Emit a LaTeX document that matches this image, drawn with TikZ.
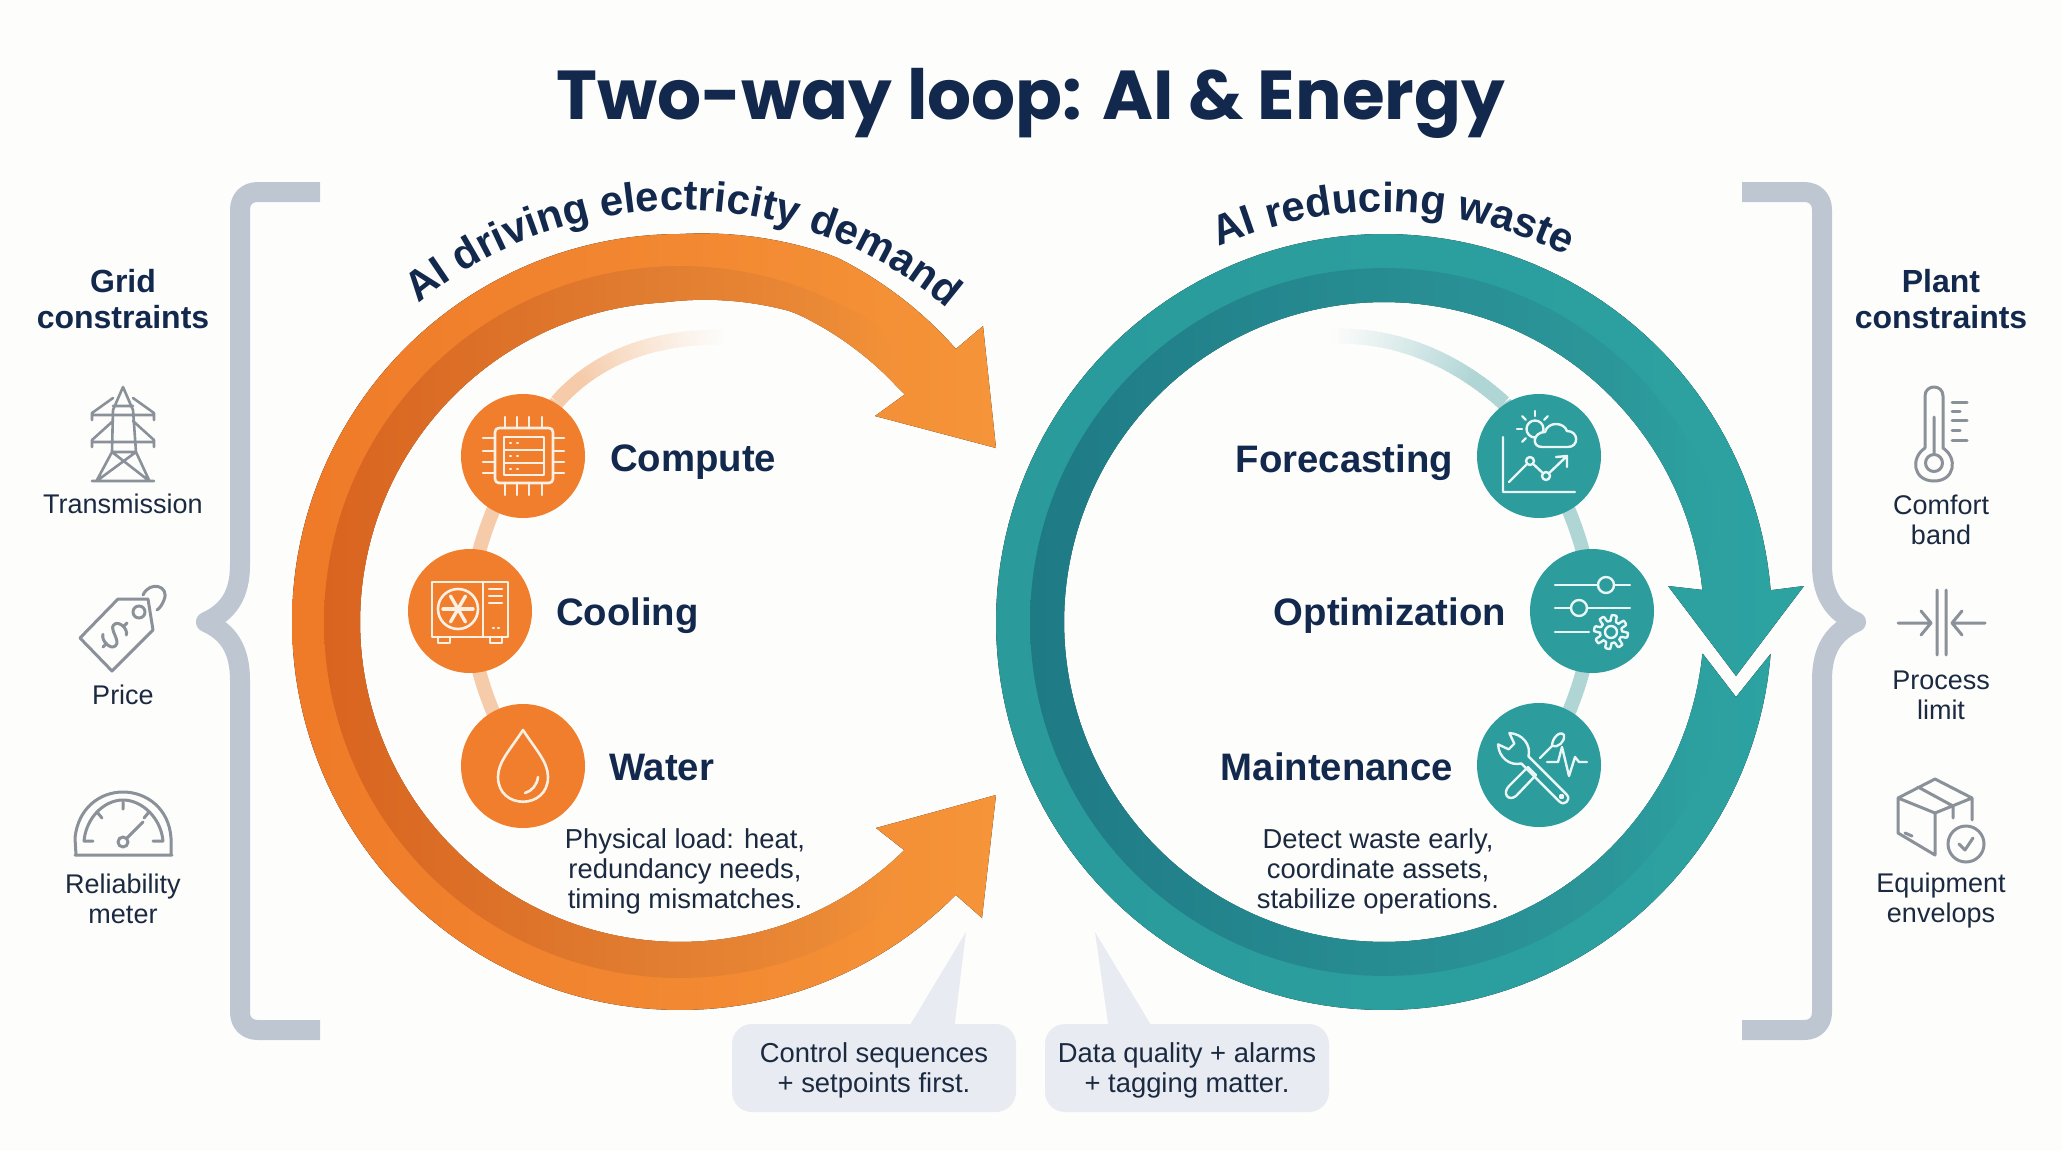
\documentclass[tikz,border=0pt]{standalone}
\usepackage{fontspec}
\usetikzlibrary{decorations.text,calc}
\setmainfont{Liberation Sans}
\newfontfamily\titlefont{Poppins}
\definecolor{navy}{HTML}{12284C}
\definecolor{ink}{HTML}{1B2A40}
\definecolor{pagebg}{HTML}{FDFDFC}
\definecolor{oL}{HTML}{EF7A28}
\definecolor{oR}{HTML}{F59439}
\definecolor{tL}{HTML}{2A9A9B}
\definecolor{tR}{HTML}{2CA2A1}
\definecolor{brk}{HTML}{BEC7D1}
\definecolor{callout}{HTML}{E8EBF1}
\definecolor{icon}{HTML}{8B9199}
\definecolor{linkO}{HTML}{F5CBA9}
\definecolor{linkT}{HTML}{B0D5D5}
\definecolor{whiteO}{HTML}{FCEFE4}
\definecolor{whiteT}{HTML}{EAF6F6}
\definecolor{orbO}{HTML}{F07E2C}
\definecolor{orbT}{HTML}{2C9C9C}
\pgfdeclarehorizontalshading{darkO}{100bp}{
 rgb(0bp)=(.851,.392,.122);
 rgb(25bp)=(.851,.392,.122);
 rgb(52bp)=(.878,.486,.188);
 rgb(67bp)=(.914,.533,.208);
 rgb(73bp)=(.949,.565,.216);
 rgb(75bp)=(.953,.569,.22);
 rgb(100bp)=(.953,.569,.22)}
\pgfdeclarehorizontalshading{darkT}{100bp}{
 rgb(0bp)=(.118,.478,.522);
 rgb(25bp)=(.118,.478,.522);
 rgb(50bp)=(.153,.549,.573);
 rgb(67bp)=(.169,.588,.6);
 rgb(73bp)=(.173,.624,.624);
 rgb(75bp)=(.173,.631,.627);
 rgb(100bp)=(.173,.631,.627)}
\pgfdeclarelayer{back}
\pgfsetlayers{back,main}
\newcommand\curvefnt{\color{navy}\bfseries\fontsize{42}{44}\selectfont}
\tikzset{
 orb/.style={circle,minimum size=124pt,inner sep=0pt,fill=#1},
 hd/.style={font=\bfseries\fontsize{38.3}{42}\selectfont,text=navy,inner sep=0pt},
 sub/.style={font=\bfseries\fontsize{32}{36}\selectfont,text=navy,inner sep=0pt,align=center},
 lab/.style={font=\fontsize{27}{30}\selectfont,text=ink,inner sep=0pt,align=center},
 note/.style={font=\fontsize{27.4}{30}\selectfont,text=ink,inner sep=0pt,align=center},
 link/.style={line width=14pt},
 brace/.style={draw=brk,line width=20pt,line join=round},
 calloutbox/.style={fill=callout,rounded corners=20pt,minimum width=284pt,minimum height=88pt,inner sep=0pt,font=\fontsize{27.4}{30}\selectfont,text=ink,align=center},
 gi/.style={draw=icon,line width=3pt,line cap=round,line join=round},
 wo/.style={draw=whiteO,line width=2.6pt,line cap=round,line join=round},
 wt/.style={draw=whiteT,line width=2.4pt,line cap=round,line join=round},
}
\begin{document}
\begin{tikzpicture}[x=1pt,y=-1pt]
\useasboundingbox (0,0) rectangle (2062,1151);
\begin{pgfonlayer}{back}
\fill[pagebg] (0,0) rectangle (2062,1151);
\end{pgfonlayer}

% title
\node[font=\titlefont\bfseries\fontsize{69.2}{80}\selectfont,text=navy,inner sep=0pt,anchor=base] (title) at (1031,119) {Two-way loop: AI \& Energy};

% left ring
\fill[left color=oL,right color=oR]
 plot[domain=44.7:315.3,samples=150] ({680+(388+9*max(0,1-abs(\x-293)/23))*cos(\x)},{622+(388+9*max(0,1-abs(\x-293)/23))*sin(\x)})
 -- (983,326) -- (996,448) -- (875,416) -- (904,395)
 -- plot[domain=314.5:45.5,samples=150] ({680+(320+10*max(0,1-abs(\x-290)/23))*cos(\x)},{622+(320+10*max(0,1-abs(\x-290)/23))*sin(\x)})
 -- (904,850) -- (876,828) -- (996,795) -- (982,918) -- cycle;
\shade[shading=darkO]
 plot[domain=46:314,samples=150] ({680+(322+34*min(1,min((\x-46)/10,(314-\x)/10)))*cos(\x)},{622+(322+34*min(1,min((\x-46)/10,(314-\x)/10)))*sin(\x)})
 -- plot[domain=314:46,samples=150] ({680+(320+10*max(0,1-abs(\x-290)/23))*cos(\x)},{622+(320+10*max(0,1-abs(\x-290)/23))*sin(\x)}) -- cycle;

% right ring
\fill[left color=tL,right color=tR]
 plot[domain=4.7:355.3,samples=180] ({1384+388*cos(\x)},{622+388*sin(\x)})
 -- (1804,586) -- (1736,676) -- (1668,586) -- (1703,590)
 -- plot[domain=354.3:5.7,samples=180] ({1384+320*cos(\x)},{622+320*sin(\x)})
 -- (1703,654) -- (1736,697) -- cycle;
\shade[shading=darkT]
 plot[domain=9:351,samples=180] ({1384+(321+33*min(1,min((\x-9)/10,(351-\x)/10)))*cos(\x)},{622+(321+33*min(1,min((\x-9)/10,(351-\x)/10)))*sin(\x)})
 -- plot[domain=351:9,samples=180] ({1384+320*cos(\x)},{622+320*sin(\x)}) -- cycle;

% curved headings
\path[color=navy,decorate,decoration={text along path,text align=center,text={|\curvefnt|AI driving electricity demand}}]
 plot[domain=220:321,samples=80] ({680+412*cos(\x)},{622+412*sin(\x)});
\path[color=navy,decorate,decoration={text along path,text align=center,text={|\curvefnt|AI reducing waste}}]
 plot[domain=231:312,samples=80] ({1383+410*cos(\x)},{622+410*sin(\x)});

% orbs
\node[orb=orbO] (compute) at (523,456) {};
\node[orb=orbO] (cooling) at (470,611) {};
\node[orb=orbO] (water) at (523,766) {};
\node[orb=orbT] (forecast) at (1539,456) {};
\node[orb=orbT] (optim) at (1592,611) {};
\node[orb=orbT] (maint) at (1539,765) {};

% connectors behind the orbs
\begin{pgfonlayer}{back}
\draw[link,draw=linkO] (compute.center) .. controls (497,490) and (470,560) .. (cooling.center);
\draw[link,draw=linkO] (cooling.center) .. controls (470,660) and (495,730) .. (water.center);
\draw[link,draw=linkT] (forecast.center) .. controls (1565,490) and (1592,560) .. (optim.center);
\draw[link,draw=linkT] (optim.center) .. controls (1592,660) and (1567,730) .. (maint.center);
% fading tails, drawn piece by piece from the faint end
\foreach \i in {39,38,...,0}{
 \pgfmathsetmacro\ta{\i/40}\pgfmathsetmacro\tb{(\i+1.2)/40}
 \pgfmathsetmacro\pct{min(100,(1-\ta)*125)}
 \draw[line width=15pt,draw=linkO!\pct!pagebg]
  ({(1-\ta)^3*557+3*(1-\ta)^2*\ta*590+3*(1-\ta)*\ta^2*640+\ta^3*722},{(1-\ta)^3*402+3*(1-\ta)^2*\ta*365+3*(1-\ta)*\ta^2*337+\ta^3*337})
  -- ({(1-\tb)^3*557+3*(1-\tb)^2*\tb*590+3*(1-\tb)*\tb^2*640+\tb^3*722},{(1-\tb)^3*402+3*(1-\tb)^2*\tb*365+3*(1-\tb)*\tb^2*337+\tb^3*337});
 \draw[line width=15pt,draw=linkT!\pct!pagebg]
  ({(1-\ta)^3*1504+3*(1-\ta)^2*\ta*1462+3*(1-\ta)*\ta^2*1405+\ta^3*1335},{(1-\ta)^3*403+3*(1-\ta)^2*\ta*365+3*(1-\ta)*\ta^2*335+\ta^3*336})
  -- ({(1-\tb)^3*1504+3*(1-\tb)^2*\tb*1462+3*(1-\tb)*\tb^2*1405+\tb^3*1335},{(1-\tb)^3*403+3*(1-\tb)^2*\tb*365+3*(1-\tb)*\tb^2*335+\tb^3*336});
}
\draw[line width=15pt,draw=linkO] (compute.center) -- (557,402);
\draw[line width=15pt,draw=linkT] (forecast.center) -- (1504,403);
\end{pgfonlayer}

% row labels
\node[hd,anchor=base west] (lblCompute) at (610,471) {Compute};
\node[hd,anchor=base west] (lblCooling) at (556,625) {Cooling};
\node[hd,anchor=base west] (lblWater) at (609,780) {Water};
\node[hd,anchor=base east] (lblForecast) at (1453,472) {Forecasting};
\node[hd,anchor=base east] (lblOptim) at (1506,625) {Optimization};
\node[hd,anchor=base east] (lblMaint) at (1453,780) {Maintenance};

% notes
\node[note,anchor=center] (noteL) at (685,871) {Physical load: heat,\\redundancy needs,\\timing mismatches.};
\node[note,anchor=center] (noteR) at (1378,871) {Detect waste early,\\coordinate assets,\\stabilize operations.};

% callouts
\fill[callout] (907,1030) -- (966,932) -- (954,1030) -- cycle;
\fill[callout] (1109,1030) -- (1095,932) -- (1154,1030) -- cycle;
\node[calloutbox] (cbL) at (874,1068) {\rule{0pt}{25pt}Control sequences\\+ setpoints first.};
\node[calloutbox] (cbR) at (1187,1068) {\rule{0pt}{25pt}Data quality + alarms\\+ tagging matter.};

% brackets
\draw[brace] (320,192) -- (258,192) .. controls (247,192) and (240,199) .. (240,210) -- (240,565) .. controls (240,595) and (228,612) .. (206,622) .. controls (228,632) and (240,649) .. (240,680) -- (240,1012) .. controls (240,1023) and (247,1030) .. (258,1030) -- (320,1030);
\draw[brace] (1742,192) -- (1804,192) .. controls (1815,192) and (1822,199) .. (1822,210) -- (1822,565) .. controls (1822,595) and (1834,612) .. (1856,622) .. controls (1834,632) and (1822,649) .. (1822,680) -- (1822,1012) .. controls (1822,1023) and (1815,1030) .. (1804,1030) -- (1742,1030);

% side headings
\node[sub] (gridH) at (123,299) {Grid\\constraints};
\node[sub] (plantH) at (1941,299) {Plant\\constraints};
\node[lab,anchor=base] (lTrans) at (123,513) {Transmission};
\node[lab,anchor=base] (lPrice) at (123,704) {Price};
\node[lab] (lRel) at (123,898.5) {Reliability\\meter};
\node[lab] (lComf) at (1941,520) {Comfort\\band};
\node[lab] (lProc) at (1941,695.5) {Process\\limit};
\node[lab] (lEquip) at (1941,901) {Equipment\\envelops};

% ---- grey icons ----
% tower
\draw[gi,line width=2.6pt] (123,387) -- (113,410) -- (112,452) -- (97,480) (123,387) -- (133,410) -- (136,452) -- (149,480)
 (92,415) -- (154,415) (92,413) -- (113,398) (154,413) -- (133,398) (92,442) -- (154,442) (92,440) -- (113,421) (154,440) -- (133,421)
 (92,413) -- (92,420) (154,413) -- (154,420) (92,440) -- (92,447) (154,440) -- (154,447)
 (112,452) -- (136,452) (112,452) -- (148,480) (136,452) -- (98,480) (92,481) -- (154,481) (113,406) -- (133,406);
% price tag
\draw[gi] (80,638) -- (118,599) -- (148,599) -- (153,630) -- (112,671) -- cycle;
\draw[gi] (139,612) circle (6);
\draw[gi] (143,595) .. controls (150,580) and (170,586) .. (164,600) .. controls (162,605) and (160,608) .. (157,610);
\begin{scope}[shift={(115,635)},rotate=-45]
\draw[gi] (8,-8) .. controls (5,-14) and (-9,-13) .. (-8,-6) .. controls (-8,0) and (8,0) .. (8,7) .. controls (8,14) and (-6,14) .. (-9,8);
\draw[gi] (0,-17) -- (0,-12) (0,12) -- (0,17);
\end{scope}
% gauge
\draw[gi] (75,855) -- (172,855) (76,855) -- (75,838) .. controls (78,808) and (100,792) .. (123,792) .. controls (146,792) and (169,808) .. (171,838) -- (171,855);
\draw[gi] (93,841) -- (84,841) .. controls (86,818) and (104,800) .. (123,800) .. controls (142,800) and (161,818) .. (163,841) -- (153,841);
\draw[gi] (123,802) -- (123,809) (97,812) -- (102,818) (149,812) -- (144,818) (127,838) -- (143,822);
\draw[gi] (123,842) circle (5);
% thermometer
\draw[gi] (1925,448) -- (1925,396) .. controls (1925,384) and (1943,384) .. (1943,396) -- (1943,448) .. controls (1958,458) and (1955,481) .. (1934,481) .. controls (1913,481) and (1910,458) .. (1925,448);
\draw[gi] (1934,463) circle (8.5) (1934,417) -- (1934,454);
\draw[gi] (1952,402) -- (1967,402) (1952,411) -- (1960,411) (1952,420) -- (1967,420) (1952,430) -- (1960,430) (1952,440) -- (1967,440);
% process limit
\draw[gi] (1937,590) -- (1937,655) (1946,590) -- (1946,655) (1898,623) -- (1931,623) (1921,611) -- (1931,623) -- (1921,635) (1985,623) -- (1952,623) (1962,611) -- (1952,623) -- (1962,635);
% box
\draw[gi] (1935,779) -- (1972,798) -- (1935,813) -- (1898,798) -- cycle (1898,798) -- (1898,833) -- (1935,855) -- (1935,813) (1972,798) -- (1972,820) (1918,787) -- (1953,806) -- (1953,818) (1905,833) -- (1912,836);
\draw[gi] (1966,844) circle (18) (1959,844) -- (1965,850) -- (1973,838);

% ---- orange icons ----
\draw[wo,rounded corners=4pt] (495,428) rectangle (553,483);
\draw[wo] (504,437) rectangle (544,475) (504,450) -- (544,450) (504,463) -- (544,463);
\foreach \p in {505,517,529,542} \draw[wo] (\p,417) -- (\p,428) (\p,483) -- (\p,495);
\foreach \p in {438,451,462,473} \draw[wo] (483,\p) -- (495,\p) (553,\p) -- (564,\p);
\foreach \p in {443,456,469} \draw[wo,line width=2.4pt] (510,\p) -- (511,\p) (517,\p) -- (518,\p);
\draw[wo] (432,582) rectangle (508,637) (483,582) -- (483,637);
\draw[wo] (458,609) circle (20);
\foreach \a in {0,60,...,300} \draw[wo,line width=3.4pt] (458,609) -- ({458+15*cos(\a)},{609+15*sin(\a)});
\draw[wo] (489,589) -- (502,589) (489,596) -- (502,596) (489,603) -- (502,603) (493,628) -- (494,628) (498,628) -- (499,628);
\draw[wo] (438,637) -- (438,643) -- (450,643) -- (450,637) (490,637) -- (490,643) -- (502,643) -- (502,637);
\draw[wo] (523,730) .. controls (510,750) and (498,762) .. (498,777) .. controls (498,810) and (548,810) .. (548,777) .. controls (548,762) and (536,750) .. (523,730) -- cycle;
\draw[wo] (525,793) .. controls (532,791) and (537,785) .. (538,777);

% ---- teal icons ----
\draw[wt] (1503,437) -- (1503,492) -- (1575,492) (1509,482) -- (1530,461) -- (1546,476) -- (1567,456) (1556,457) -- (1567,456) -- (1567,467);
\draw[wt,fill=orbT] (1530,461) circle (4) (1546,476) circle (4);
\draw[wt] (1535,429) circle (8.5);
\foreach \a in {135,180,225,270,315} \draw[wt] ({1535+13*cos(\a)},{429+13*sin(\a)}) -- ({1535+18*cos(\a)},{429+18*sin(\a)});
\draw[wt,fill=orbT] (1542,447) -- (1568,447) .. controls (1579,447) and (1579,431) .. (1567,431) .. controls (1564,422) and (1548,421) .. (1545,432) .. controls (1533,432) and (1531,447) .. (1542,447) -- cycle;
\draw[wt] (1555,585) -- (1630,585) (1555,608) -- (1630,608) (1555,632) -- (1589,632);
\draw[wt,fill=orbT] (1606,585) circle (8) (1579,608) circle (8);
\draw[wt] plot[domain=0:360,samples=121] ({1611+(14+3*max(-1,min(1,3*sin(8*\x))))*cos(\x)},{632+(14+3*max(-1,min(1,3*sin(8*\x))))*sin(\x)}) -- cycle;
\draw[wt] (1611,632) circle (6);
\begin{scope}[shift={(1515,750)},rotate=-45]
\draw[wt] (14,-5) .. controls (8,-15) and (-6,-17) .. (-16,-8) -- (-5,-4) -- (-5,4) -- (-16,8) .. controls (-6,17) and (8,15) .. (14,5) -- (68,5) .. controls (75,5) and (75,-5) .. (68,-5) -- cycle;
\draw[wt] (66,0) circle (1.5);
\end{scope}
\draw[wt] (1509,786) -- (1528,767) -- (1536,775) -- (1516,796) .. controls (1508,802) and (1502,793) .. (1509,786) -- cycle;
\draw[wt] (1540,758) -- (1552,746) (1552,746) .. controls (1552,738) and (1560,730) .. (1564,735) .. controls (1565,742) and (1558,748) .. (1552,746);
\draw[wt] (1547,762) -- (1558,762) -- (1562,747) -- (1569,776) -- (1575,757) -- (1579,762) -- (1587,762);
\end{tikzpicture}
\end{document}
